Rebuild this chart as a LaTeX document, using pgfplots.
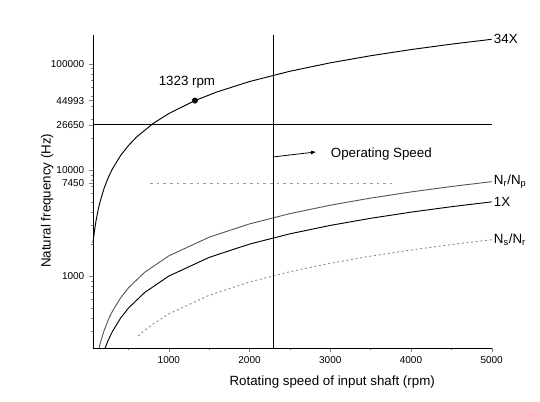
\documentclass[border=0pt]{standalone}
\usepackage{fontspec}
\setmainfont{Liberation Sans}
\usepackage{pgfplots}
\pgfplotsset{compat=1.18}
\usetikzlibrary{arrows.meta}

\begin{document}
\begin{tikzpicture}
\useasboundingbox (-69.75pt,-39.75pt) rectangle (335.25pt,261pt);
\begin{axis}[
  scale only axis, width=299pt, height=235pt,
  ymode=log, log basis y=10,
  xmin=60, xmax=5000, ymin=210, ymax=188000,
  axis lines=left, axis line style={-, line width=0.6pt},
  tick align=outside, clip=false,
  major tick length=3pt, minor tick length=1.8pt,
  xtick={1000,2000,3000,4000,5000},
  minor xtick={500,1500,2500,3500,4500},
  ytick={1000,7450,10000,26650,44993,100000},
  yticklabels={1000,7450,10000,26650,44993,100000},
  minor ytick={300,400,500,600,700,800,900,2000,3000,4000,5000,6000,7000,8000,9000,20000,30000,40000,50000,60000,70000,80000,90000},
  tick label style={font=\fontsize{7.5}{9}\selectfont},
  /pgf/number format/assume math mode=true,
  /pgf/number format/set thousands separator={},
  xlabel={Rotating speed of input shaft (rpm)},
  ylabel={Natural frequency (Hz)},
  label style={font=\fontsize{10}{12}\selectfont},
  xlabel style={at={(axis description cs:0.6,-0.11)}, anchor=center},
  ylabel style={at={(axis description cs:-0.115,0.47)}, anchor=center},
]
% 34X
\addplot[black, line width=0.7pt] coordinates {
 (60,2040)(70,2380)(80,2720)(100,3400)(125,4250)(150,5100)(200,6800)(250,8500)(300,10200)
 (400,13600)(500,17000)(600,20400)(800,27200)(1000,34000)(1323,44993)(1600,54400)
 (2000,68000)(2500,85000)(3000,102000)(3500,119000)(4000,136000)(4500,153000)(5000,170000)};
% Nr/Np
\addplot[black!65, line width=0.7pt] coordinates {
 (136,211)(160,248)(200,310)(250,388)(300,465)(400,620)(500,775)(700,1085)(1000,1550)
 (1500,2325)(2000,3100)(2500,3875)(3000,4650)(3500,5425)(4000,6200)(4500,6975)(5000,7750)};
% 1X
\addplot[black, line width=0.7pt] coordinates {
 (210,210)(250,250)(300,300)(400,400)(500,500)(700,700)(1000,1000)(1500,1500)
 (2000,2000)(2500,2500)(3000,3000)(3500,3500)(4000,4000)(4500,4500)(5000,5000)};
% Ns/Nr
\addplot[black!45, line width=0.7pt, dash pattern=on 1.5pt off 2pt] coordinates {
 (620,273)(700,308)(800,352)(1000,440)(1500,660)(2000,880)(2500,1100)(3000,1320)
 (3500,1540)(4000,1760)(4500,1980)(5000,2200)};
% reference lines
\addplot[black, line width=0.6pt] coordinates {(60,26650)(5000,26650)};
\addplot[black!40, line width=0.6pt, dash pattern=on 2pt off 3pt] coordinates {(765,7450)(3765,7450)};
\addplot[black, line width=0.7pt] coordinates {(2300,210)(2300,188000)};
% 1323 rpm point
\addplot[only marks, mark=*, mark size=2pt, black] coordinates {(1323,44993)};
\addplot[black, line width=0.6pt, -{Latex[length=4pt,width=3pt]}] coordinates {(2300,13270)(2827,14780)};

\node[font=\fontsize{10}{12}\selectfont, anchor=south, xshift=-6pt, yshift=6pt] at (axis cs:1323,44993) {1323 rpm};
\node[font=\fontsize{10}{12}\selectfont, anchor=west] at (axis cs:2950,14150) {Operating Speed};
\node[font=\fontsize{10}{12}\selectfont, anchor=west, inner sep=1.5pt] at (axis cs:5000,170000) {34X};
\node[font=\fontsize{10}{12}\selectfont, anchor=west, inner sep=1.5pt] at (axis cs:5000,7750) {N\textsubscript{r}/N\textsubscript{p}};
\node[font=\fontsize{10}{12}\selectfont, anchor=west, inner sep=1.5pt] at (axis cs:5000,5000) {1X};
\node[font=\fontsize{10}{12}\selectfont, anchor=west, inner sep=1.5pt] at (axis cs:5000,2200) {N\textsubscript{s}/N\textsubscript{r}};
\end{axis}
\end{tikzpicture}
\end{document}
